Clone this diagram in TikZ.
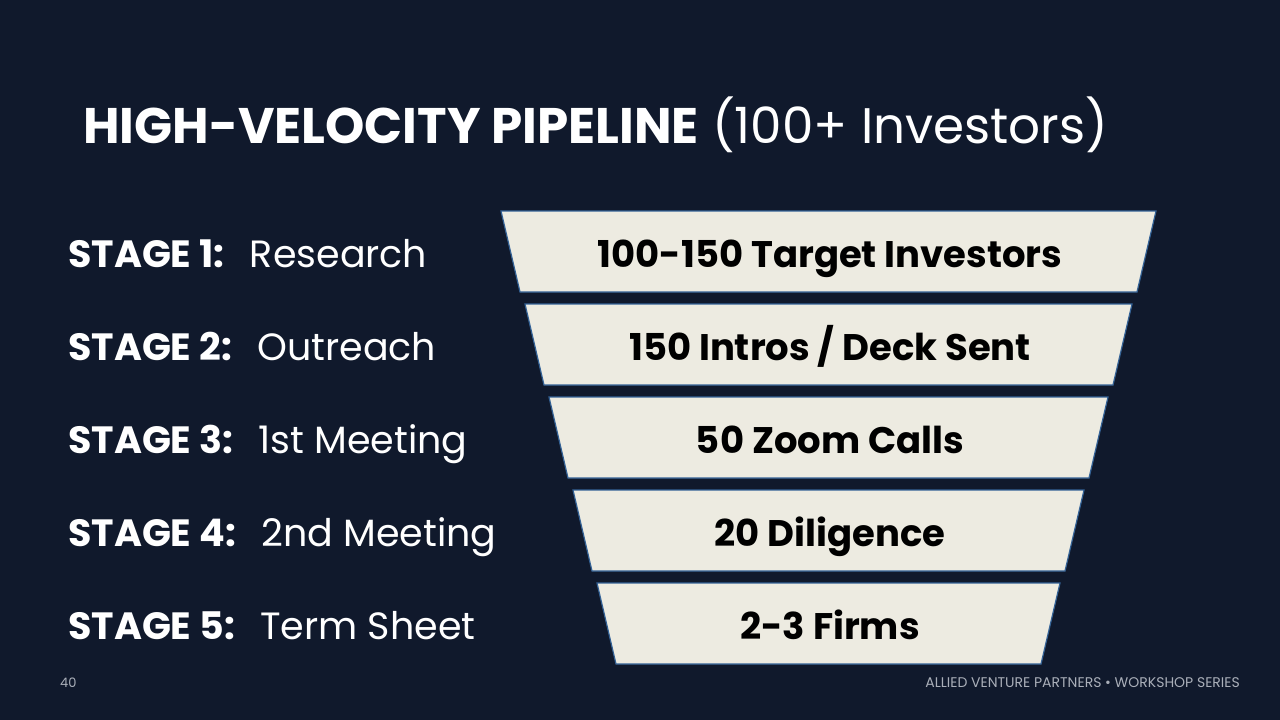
\documentclass[tikz,border=0pt]{standalone}
\usepackage{fontspec}
\setmainfont{Poppins}
\definecolor{pipe_bg}{RGB}{16, 25, 44}
\definecolor{pipe_fill}{RGB}{237, 235, 225}
\definecolor{pipe_edge}{RGB}{52, 98, 150}
\definecolor{pipe_foot}{RGB}{170, 175, 185}
\usetikzlibrary{positioning}

\begin{document}
\begin{tikzpicture}[x=1pt, y=-1pt,
        stagelbl/.style={anchor=base west, text=white, inner sep=0pt,
                         font=\fontsize{38}{42}\selectfont},
        funtxt/.style={anchor=base, text=black, inner sep=0pt,
                       font=\fontsize{37}{42}\selectfont\bfseries},
        funbox/.style={fill=pipe_fill, draw=pipe_edge, line width=1.2pt},
        foot/.style={text=pipe_foot, inner sep=0pt,
                     font=\fontsize{14}{16}\selectfont}]
        \useasboundingbox[fill=pipe_bg] (0,0) rectangle (1280,720);
        % Titre
        \node[anchor=base west, text=white, inner sep=0pt,
              font=\fontsize{50}{56}\selectfont] (title) at (83,143)
          {\textbf{HIGH-VELOCITY PIPELINE} (100+ Investors)};
        % Entonnoir et etapes
        \foreach \k/\n/\lbl/\txt in {0/1/Research/100-150 Target Investors,
                                     1/2/Outreach/{150 Intros / Deck Sent},
                                     2/3/1st Meeting/50 Zoom Calls,
                                     3/4/2nd Meeting/20 Diligence,
                                     4/5/Term Sheet/2-3 Firms} {
          \filldraw[funbox] ({501+24*\k},{211+93*\k}) -- ({1156-24*\k},{211+93*\k})
            -- ({1137-24*\k},{292+93*\k}) -- ({520+24*\k},{292+93*\k}) -- cycle;
          \node[funtxt] (fun\n) at (830,{267+93*\k}) {\txt};
          \node[stagelbl] (stage\n) at (68,{267+93*\k})
            {\textbf{STAGE \n:}\ \ \hspace{5pt}\lbl};
        }
        % Pied de page
        \node[foot, anchor=base west, font=\fontsize{13}{15}\selectfont]
          (page) at (60,687) {40};
        \node[foot, anchor=base east] (series) at (1240,687)
          {ALLIED VENTURE PARTNERS \textbullet{} WORKSHOP SERIES};
      \end{tikzpicture}
\end{document}
